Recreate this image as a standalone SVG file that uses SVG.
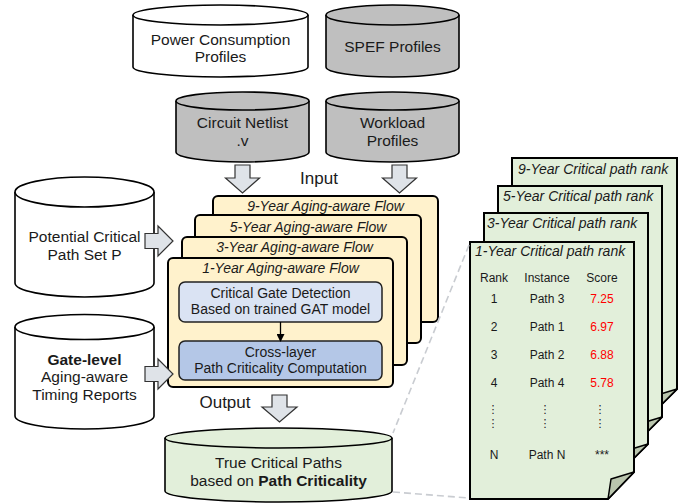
<svg xmlns="http://www.w3.org/2000/svg" width="697" height="504" viewBox="0 0 697 504">
<defs>
<style>
text{font-family:"Liberation Sans",Arial,sans-serif;fill:#1a1a1a;text-anchor:middle}
.t15{font-size:15.5px}
.t14{font-size:14px}
.it{font-style:italic;font-size:14px}
.dit{font-style:italic;font-size:14px;text-anchor:start}
.tb{font-size:12px}
.red{fill:#ff0000}
.cyl{stroke:#000;stroke-width:1.6}
.white{fill:#fff}
.gray{fill:#bfbfbf}
.green{fill:#e2efda}
.flow{fill:#fff2cc;stroke:#000;stroke-width:2}
.doc{fill:#e2efda;stroke:#000;stroke-width:2;stroke-linejoin:miter}
.fold{fill:#b9c5ad;stroke:#000;stroke-width:1.5;stroke-linejoin:round}
.barrow{fill:#dfe3e8;stroke:#333;stroke-width:1.2;stroke-linejoin:miter}
.dash{fill:none;stroke:#c9ccd1;stroke-width:1.6;stroke-dasharray:7 4}
.dots{font-family:"DejaVu Sans",sans-serif;font-size:11px}
</style>
<marker id="ah" markerWidth="8" markerHeight="8" refX="7" refY="4" orient="auto" markerUnits="userSpaceOnUse">
<path d="M0,0 L8,4 L0,8 Z" fill="#000"/>
</marker>
</defs>
<rect width="697" height="504" fill="#fff"/>

<g id="power">
<path class="cyl white" d="M133,15 V67 A87.5,10 0 0 0 308,67 V15"/>
<ellipse class="cyl white" cx="220.5" cy="15" rx="87.5" ry="10"/>
<text class="t15" x="220.5" y="44.5">Power Consumption</text>
<text class="t15" x="220.5" y="62">Profiles</text>
</g>
<g id="spef">
<path class="cyl gray" d="M326,15 V67 A66.5,10 0 0 0 459,67 V15"/>
<ellipse class="cyl gray" cx="392.5" cy="15" rx="66.5" ry="10"/>
<text class="t15" x="392.5" y="52">SPEF Profiles</text>
</g>
<g id="netlist">
<path class="cyl gray" d="M176,101 V152 A66.5,10 0 0 0 309,152 V101"/>
<ellipse class="cyl gray" cx="242.5" cy="101" rx="66.5" ry="9"/>
<text class="t15" x="242.5" y="128">Circuit Netlist</text>
<text class="t15" x="242.5" y="146">.v</text>
</g>
<g id="workload">
<path class="cyl gray" d="M326,101 V152 A66.5,10 0 0 0 459,152 V101"/>
<ellipse class="cyl gray" cx="392.5" cy="101" rx="66.5" ry="9"/>
<text class="t15" x="392.5" y="128">Workload</text>
<text class="t15" x="392.5" y="146">Profiles</text>
</g>

<g id="potential">
<path class="cyl white" d="M15,192 V283 A69.5,14 0 0 0 154,283 V192"/>
<ellipse class="cyl white" cx="84.5" cy="192" rx="69.5" ry="15"/>
<text class="t15" x="84.5" y="242">Potential Critical</text>
<text class="t15" x="84.5" y="260">Path Set P</text>
</g>
<g id="gatelevel">
<path class="cyl white" d="M15,327 V416 A69.5,13 0 0 0 154,416 V327"/>
<ellipse class="cyl white" cx="84.5" cy="327" rx="69.5" ry="12.5"/>
<text class="t15" x="84.5" y="364.5" font-weight="bold">Gate-level</text>
<text class="t15" x="84.5" y="382">Aging-aware</text>
<text class="t15" x="84.5" y="400">Timing Reports</text>
</g>

<g id="flow9"><rect class="flow" x="213" y="196" width="225" height="126" rx="5"/><text class="it" x="325.5" y="211">9-Year Aging-aware Flow</text></g>
<g id="flow5"><rect class="flow" x="195" y="215" width="226" height="128" rx="5"/><text class="it" x="308" y="232">5-Year Aging-aware Flow</text></g>
<g id="flow3"><rect class="flow" x="182" y="237" width="225" height="128" rx="5"/><text class="it" x="294.5" y="252">3-Year Aging-aware Flow</text></g>
<g id="flow1"><rect class="flow" x="168" y="258" width="225" height="129" rx="5"/><text class="it" x="280.5" y="273">1-Year Aging-aware Flow</text></g>

<g id="gatedetect">
<rect x="179" y="282" width="203" height="40" rx="6" fill="#dae3f3" stroke="#222" stroke-width="1.5"/>
<text class="t14" x="280.5" y="298">Critical Gate Detection</text>
<text class="t14" x="280.5" y="314">Based on trained GAT model</text>
</g>
<g id="crosslayer">
<rect x="179" y="341" width="203" height="39" rx="6" fill="#b4c7e7" stroke="#222" stroke-width="1.5"/>
<text class="t14" x="280.5" y="357">Cross-layer</text>
<text class="t14" x="280.5" y="373">Path Criticality Computation</text>
</g>

<g id="truecrit">
<path class="cyl green" d="M165,438 V491 A113.5,11 0 0 0 392,491 V438"/>
<ellipse class="cyl green" cx="278.5" cy="438" rx="113.5" ry="10"/>
<text class="t15" x="278.5" y="468">True Critical Paths</text>
<text class="t15" x="278.5" y="486">based on <tspan font-weight="bold">Path Criticality</tspan></text>
</g>

<g id="doc9">
<path class="doc" d="M512,158 H677 V389 L651,415 H512 Z"/>
<path class="fold" d="M677,389 L654,396 L651,415 Z"/>
<text class="dit" x="518" y="174">9-Year Critical path rank</text>
</g>
<g id="doc5">
<path class="doc" d="M498,186 H662 V417 L636,443 H498 Z"/>
<path class="fold" d="M662,417 L639,424 L636,443 Z"/>
<text class="dit" x="503" y="201">5-Year Critical path rank</text>
</g>
<g id="doc3">
<path class="doc" d="M484,213 H648 V444 L622,470 H484 Z"/>
<path class="fold" d="M648,444 L625,451 L622,470 Z"/>
<text class="dit" x="487" y="228">3-Year Critical path rank</text>
</g>
<g id="doc1">
<path class="doc" d="M470,242 H634 V472 L608,499 H470 Z"/>
<path class="fold" d="M634,472 L611,479 L608,499 Z"/>
<text class="dit" x="475" y="256">1-Year Critical path rank</text>
<text class="tb" x="494" y="282">Rank</text><text class="tb" x="547" y="282">Instance</text><text class="tb" x="602" y="282">Score</text>
<text class="tb" x="494" y="303">1</text><text class="tb" x="547" y="303">Path 3</text><text class="tb red" x="602" y="303">7.25</text>
<text class="tb" x="494" y="331">2</text><text class="tb" x="547" y="331">Path 1</text><text class="tb red" x="602" y="331">6.97</text>
<text class="tb" x="494" y="359">3</text><text class="tb" x="547" y="359">Path 2</text><text class="tb red" x="602" y="359">6.88</text>
<text class="tb" x="494" y="387">4</text><text class="tb" x="547" y="387">Path 4</text><text class="tb red" x="602" y="387">5.78</text>
<text class="dots" x="493" y="413">⋮</text><text class="dots" x="545" y="413">⋮</text><text class="dots" x="600" y="413">⋮</text>
<text class="dots" x="493" y="427">⋮</text><text class="dots" x="545" y="427">⋮</text><text class="dots" x="600" y="427">⋮</text>
<text class="tb" x="494" y="459">N</text><text class="tb" x="547" y="459">Path N</text><text class="tb" x="602" y="459" font-size="10px">***</text>
</g>

<g id="connectors">
<path class="barrow" d="M235,165 H250 V178 H259.5 L242.5,193 L225.5,178 H235 Z"/>
<path class="barrow" d="M392,165 H407 V178 H416.5 L399.5,193 L382.5,178 H392 Z"/>
<path class="barrow" d="M145,233.5 H158 V226 L173,241 L158,256 V248.5 H145 Z"/>
<path class="barrow" d="M145,366.5 H158 V359 L173,374 L158,389 V381.5 H145 Z"/>
<path class="barrow" d="M272,395 H287 V407 H297 L279.5,422 L262,407 H272 Z"/>
<line x1="280.5" y1="322" x2="280.5" y2="341" stroke="#000" stroke-width="1.3" marker-end="url(#ah)"/>
<path class="dash" d="M469,245 L393,433"/>
<path class="dash" d="M393,492 L469,498"/>
</g>

<text x="319" y="184" font-size="17px">Input</text>
<text x="225" y="408" font-size="17px">Output</text>
</svg>
